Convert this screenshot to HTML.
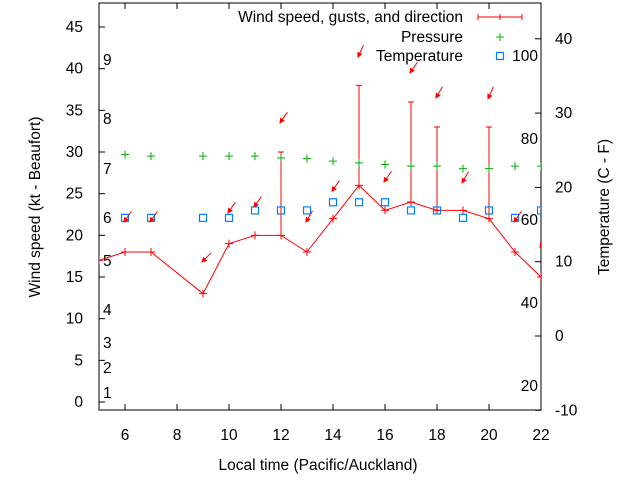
<!DOCTYPE html>
<html><head><meta charset="utf-8"><style>
body{margin:0;background:#fff}
svg{display:block;font-family:"Liberation Sans",sans-serif;font-size:15.5px}
</style></head><body>
<svg id="c" width="640" height="480" xmlns="http://www.w3.org/2000/svg"></svg>
<script>
const hours=[5,6,7,9,10,11,12,13,14,15,16,17,18,19,20,21,22];
const windKt=[17,18,18,13,19,20,20,18,22,26,23,24,23,23,22,18,15];
const gustHours=[12,15,17,18,20];
const gustKt=[30,38,36,33,33];
const pressHours=[6,7,9,10,11,12,13,14,15,16,17,18,19,20,21,22];
const pressure=[29.7,29.5,29.5,29.5,29.5,29.3,29.2,28.9,28.7,28.5,28.3,28.3,28.0,28.0,28.3,28.3];
const tempHours=[6,7,9,10,11,12,13,14,15,16,17,18,19,20,21,22];
const tempC=[15.9,15.9,15.9,15.9,16.9,16.9,16.9,18,18,18,16.9,16.9,15.9,16.9,15.9,16.9];
const arrowHours=[6,7,9,10,11,12,13,14,15,16,17,18,19,20,21,22];
const arrowLevel=[21.6,21.6,16.8,22.7,23.4,33.5,21.6,25.3,41.4,26.4,39.5,36.5,26.3,36.4,21.6,18.6];
const arrowDir=[35,35,45,35,35,35,30,35,25,35,35,30,30,25,35,35];
const xTicks=[6,8,10,12,14,16,18,20,22];
const yTicks=[0,5,10,15,20,25,30,35,40,45];
const cTicks=[-10,0,10,20,30,40];
const beaufort=[[1,393],[2,368],[3,343],[4,310],[5,261],[6,218],[7,169],[8,119],[9,60]];
const fahr=[[20,386],[40,303],[60,220],[80,139],[100,56]];

const L=99,R=541,T=3,B=410;
const X=h=>L+(h-5)*(R-L)/17;
const Y=v=>402-v*8.333;
const YC=c=>336-c*7.43;
const s=document.getElementById('c');const NS='http://www.w3.org/2000/svg';
function mk(t,a,p){const e=document.createElementNS(NS,t);for(const k in a)e.setAttribute(k,a[k]);(p||s).appendChild(e);return e;}
function txt(x,y,str,anchor,extra){const e=mk('text',Object.assign({x:x,y:y,'text-anchor':anchor||'middle',fill:'#000'},extra||{}));e.textContent=str;return e;}

const fr=mk('rect',{x:L,y:T,width:R-L,height:B-T,fill:'none',stroke:'#000','stroke-width':1});


xTicks.forEach(h=>{mk('line',{x1:X(h),x2:X(h),y1:B,y2:B-6,stroke:'#000'});mk('line',{x1:X(h),x2:X(h),y1:T,y2:T+6,stroke:'#000'});
 const t=txt(X(h),440,String(h));});
yTicks.forEach(v=>{mk('line',{x1:L,x2:L+6,y1:Y(v),y2:Y(v),stroke:'#000'});
 const t=txt(83,Y(v)+5,String(v),'end');});
cTicks.forEach(v=>{mk('line',{x1:R,x2:R-6,y1:YC(v),y2:YC(v),stroke:'#000'});
 const t=txt(555,YC(v)+5,String(v),'start');});
beaufort.forEach(b=>{const t=txt(103,b[1]+5,String(b[0]),'start');});
fahr.forEach(f=>{const t=txt(538,f[1]+5,String(f[0]),'end');});

const g=mk('g',{});
const cp=mk('clipPath',{id:'cp'});mk('rect',{x:L,y:T,width:R-L,height:B-T},cp);
g.setAttribute('clip-path','url(#cp)');
const wl=mk('polyline',{points:hours.map((h,i)=>X(h)+','+Y(windKt[i])).join(' '),fill:'none',stroke:'#f00','stroke-width':1},g);


hours.forEach((h,i)=>{const x=X(h),y=Y(windKt[i]);mk('path',{d:`M${x-4},${y}h8M${x},${y-4}v8`,stroke:'#f00'},g);});
gustHours.forEach((h,i)=>{const x=X(h),v=windKt[hours.indexOf(h)];
 const e=mk('path',{d:`M${x},${Y(v)}V${Y(gustKt[i])}M${x-3},${Y(gustKt[i])}h6`,stroke:'#f00',fill:'none'},g);
 
 });
pressHours.forEach((h,i)=>{const x=X(h),y=Y(pressure[i]);const e=mk('path',{d:`M${x-4},${y}h8M${x},${y-4}v8`,stroke:'#00b000'},g);
 
 });
tempHours.forEach((h,i)=>{const x=X(h),y=YC(tempC[i]);const e=mk('rect',{x:x-3.5,y:y-3.5,width:7,height:7,fill:'none',stroke:'#0080ff','stroke-width':1.2},g);
 
 });
arrowHours.forEach((h,i)=>{const hx=X(h)-1,hy=Y(arrowLevel[i]);const a=arrowDir[i]*Math.PI/180;
 const tx=hx+13*Math.sin(a),ty=hy-13*Math.cos(a);
 const ux=(hx-tx)/13,uy=(hy-ty)/13;
 const p1x=hx-4*ux-2*uy,p1y=hy-4*uy+2*ux,p2x=hx-4*ux+2*uy,p2y=hy-4*uy-2*ux;
 const e=mk('path',{d:`M${tx},${ty}L${hx},${hy}M${p1x},${p1y}L${hx},${hy}L${p2x},${p2y}z`,stroke:'#f00',fill:'#f00','stroke-width':1},g);
 
 });

const l1=txt(463,22,'Wind speed, gusts, and direction','end');
mk('path',{d:'M478,17h44M478,14v6M522,14v6M500,14v6',stroke:'#f00'});
const l2=txt(463,42,'Pressure','end');
mk('path',{d:'M496,37h8M500,33v8',stroke:'#00b000'});
const l3=txt(463,61,'Temperature','end');
mk('rect',{x:496.5,y:52.5,width:7,height:7,fill:'none',stroke:'#0080ff','stroke-width':1.2});

const xt=txt(318,470,'Local time (Pacific/Auckland)');
const yt=txt(0,0,'Wind speed (kt - Beaufort)','middle',{transform:'translate(40,207) rotate(-90)'});
const y2=txt(0,0,'Temperature (C - F)','middle',{transform:'translate(609,207) rotate(-90)'});
</script>
</body></html>
